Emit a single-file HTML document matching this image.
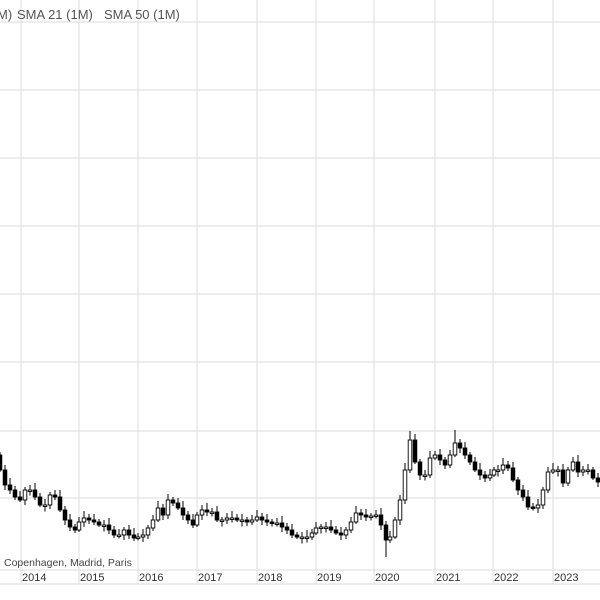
<!DOCTYPE html>
<html><head><meta charset="utf-8"><style>
html,body{margin:0;padding:0;background:#fff;width:600px;height:600px;overflow:hidden}
svg{display:block;font-family:"Liberation Sans",sans-serif}
</style></head><body>
<svg id="s" width="600" height="600" viewBox="0 0 600 600" xmlns="http://www.w3.org/2000/svg">
<rect width="600" height="600" fill="#fff"/>
<g stroke="#e2e2e2" stroke-width="1.2">
<line x1="0" y1="22" x2="600" y2="22"/><line x1="0" y1="90" x2="600" y2="90"/>
<line x1="0" y1="158" x2="600" y2="158"/><line x1="0" y1="226" x2="600" y2="226"/>
<line x1="0" y1="294" x2="600" y2="294"/><line x1="0" y1="362" x2="600" y2="362"/>
<line x1="0" y1="431" x2="600" y2="431"/><line x1="0" y1="498" x2="600" y2="498"/>
<line x1="21" y1="0" x2="21" y2="584"/><line x1="79" y1="0" x2="79" y2="584"/>
<line x1="138" y1="0" x2="138" y2="584"/><line x1="197" y1="0" x2="197" y2="584"/>
<line x1="257" y1="0" x2="257" y2="584"/><line x1="316" y1="0" x2="316" y2="584"/>
<line x1="374" y1="0" x2="374" y2="584"/><line x1="435" y1="0" x2="435" y2="584"/>
<line x1="493" y1="0" x2="493" y2="584"/><line x1="553" y1="0" x2="553" y2="584"/>
<line x1="0" y1="570" x2="600" y2="570"/><line x1="0" y1="584" x2="600" y2="584"/>
</g>
<g font-size="13" fill="#555">
<text x="-3" y="19">M)</text><text x="17" y="19">SMA 21 (1M)</text><text x="104" y="19">SMA 50 (1M)</text>
</g>
<text x="4" y="566" font-size="10.5" fill="#444">Copenhagen, Madrid, Paris</text>
<g font-size="11" fill="#333">
<text x="22" y="581">2014</text><text x="80" y="581">2015</text><text x="139" y="581">2016</text>
<text x="198" y="581">2017</text><text x="258" y="581">2018</text><text x="317" y="581">2019</text>
<text x="375" y="581">2020</text><text x="436" y="581">2021</text><text x="494" y="581">2022</text>
<text x="554" y="581">2023</text>
</g>
<g id="c"></g>
</svg>
<script>
(function(){
var d=[[0,470],[5,485],[10,490],[15,497],[20,500],[25,490],[30,490],[35,497],[40,505],[45,505],[50,495],[55,497],[60,510],[65,520],[70,527],[75,530],[79,522],[84,518],[89,520],[94,522],[99,525],[104,525],[109,530],[114,535],[119,535],[124,530],[129,535],[134,538],[138,537],[143,535],[148,528],[153,520],[158,508],[163,515],[168,500],[173,503],[178,508],[183,515],[188,520],[193,525],[197,515],[202,510],[207,512],[212,512],[217,520],[222,520],[227,518],[232,518],[237,520],[242,520],[247,522],[252,520],[257,517],[262,520],[267,522],[272,523],[277,523],[282,527],[287,530],[292,535],[297,537],[302,537],[307,537],[312,533],[316,528],[321,527],[326,527],[331,530],[336,533],[341,535],[346,530],[351,522],[356,513],[361,515],[366,517],[371,516],[376,515],[381,525],[386,540],[390,537],[395,520],[400,500],[405,470],[410,440],[415,462],[420,475],[425,475],[430,458],[435,455],[440,460],[445,465],[450,455],[455,443],[460,448],[465,455],[470,462],[475,470],[480,475],[485,478],[490,475],[494,470],[498,470],[503,465],[508,468],[513,480],[518,490],[523,497],[528,507],[533,508],[538,505],[543,490],[548,472],[553,470],[558,470],[563,483],[568,470],[573,462],[578,472],[583,470],[588,470],[593,478],[598,482]];
var NS="http://www.w3.org/2000/svg";
var g=document.getElementById('c'),prev=455;
function el(t,a){var e=document.createElementNS(NS,t);for(var k in a)e.setAttribute(k,String(a[k]));g.appendChild(e);}
for(var i=0;i<d.length;i++){var x=d[i][0],c=d[i][1],o=(i==0?455:prev);
var bt=Math.min(o,c),bb=Math.max(o,c);if(bb-bt<1.5){bb=bt+1.5;}
var hi=bt-3-((i*7)%5),lo=bb+2+((i*3)%4);
if(x==386)lo=557;if(x==410)hi=431;if(x==455)hi=430;
el('line',{x1:x,y1:hi,x2:x,y2:lo,stroke:'#000','stroke-width':1});
el('rect',{x:x-1.8,y:bt,width:3.6,height:bb-bt,fill:(c>o?'#000':'#fff'),stroke:'#000','stroke-width':0.9});
prev=c;}
})();
</script>
</body></html>
